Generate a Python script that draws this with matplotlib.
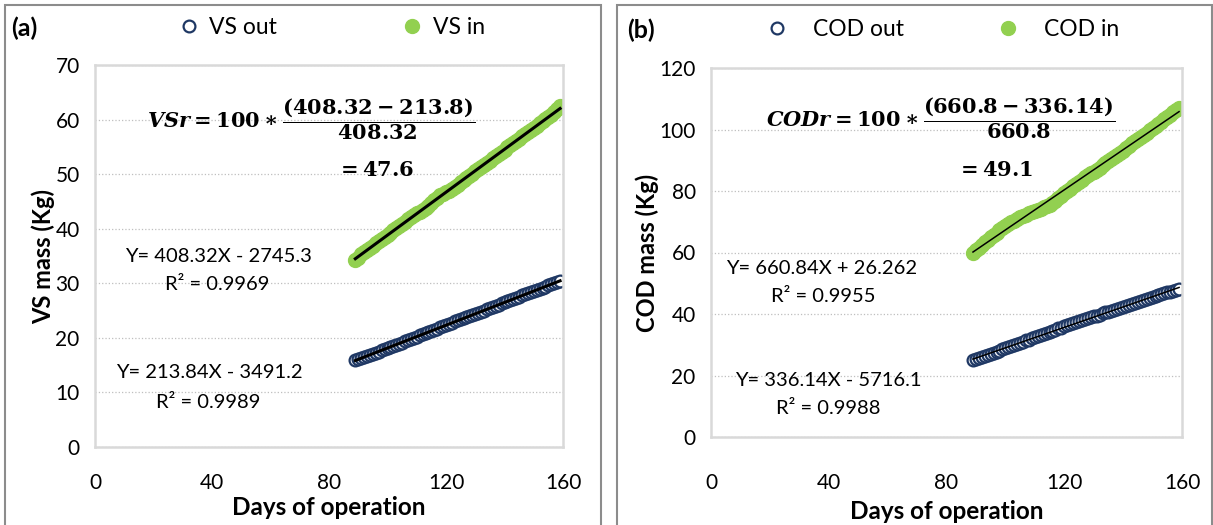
import matplotlib.pyplot as plt
import matplotlib.patches as mpatches
import numpy as np

W, H = 1213, 525

# days of operation (one point per day)
days = list(range(89, 160))

vs_in = [34.3, 34.7, 35.4, 35.8, 36.1, 36.5, 36.9, 37.3, 37.7, 38.1,
         38.5, 38.9, 39.3, 39.7, 40.1, 40.5, 40.9, 41.3, 41.7, 42.1,
         42.5, 42.8, 43.1, 43.4, 43.8, 44.2, 44.7, 45.2, 45.7, 46.1,
         46.4, 46.7, 47.0, 47.3, 47.7, 48.1, 48.5, 48.9, 49.3, 49.7,
         50.1, 50.5, 50.9, 51.3, 51.7, 52.1, 52.5, 52.9, 53.3, 53.7,
         54.1, 54.5, 54.9, 55.3, 55.7, 56.1, 56.5, 56.9, 57.3, 57.7,
         58.1, 58.5, 58.9, 59.3, 59.7, 60.1, 60.5, 60.9, 61.4, 61.9,
         62.5]
vs_out = [15.9, 16.1, 16.3, 16.5, 16.7, 16.9, 17.1, 17.3, 17.5, 17.7,
          17.9, 18.1, 18.3, 18.5, 18.7, 18.9, 19.1, 19.4, 19.6, 19.8,
          20.0, 20.2, 20.5, 20.7, 20.9, 21.1, 21.3, 21.5, 21.7, 21.9,
          22.1, 22.3, 22.5, 22.7, 23.0, 23.2, 23.4, 23.6, 23.8, 24.0,
          24.2, 24.4, 24.6, 24.8, 25.0, 25.2, 25.4, 25.6, 25.9, 26.1,
          26.3, 26.5, 26.7, 26.9, 27.1, 27.3, 27.5, 27.8, 28.0, 28.2,
          28.4, 28.6, 28.8, 29.0, 29.2, 29.4, 29.6, 29.8, 30.0, 30.2,
          30.4]
cod_in = [60.0, 60.7, 61.6, 62.5, 63.3, 64.1, 64.9, 65.7, 66.5, 67.2,
          67.9, 68.6, 69.3, 69.9, 70.4, 70.9, 71.4, 71.9, 72.3, 72.7,
          73.1, 73.5, 73.9, 74.3, 74.7, 75.1, 75.5, 76.0, 76.8, 77.6,
          78.4, 79.2, 80.0, 80.8, 81.6, 82.3, 83.0, 83.7, 84.4, 85.1,
          85.7, 86.3, 86.9, 87.6, 88.3, 89.0, 89.6, 90.3, 91.0, 91.7,
          92.4, 93.1, 93.9, 94.7, 95.5, 96.2, 96.9, 97.6, 98.3, 99.0,
          99.8, 100.5, 101.2, 101.9, 102.6, 103.3, 104.0, 104.8, 105.6, 106.3,
          107.0]
cod_out = [25.0, 25.3, 25.7, 26.0, 26.4, 26.7, 27.1, 27.4, 27.8, 28.1,
           28.5, 28.9, 29.2, 29.6, 29.9, 30.3, 30.6, 31.0, 31.4, 31.7,
           32.1, 32.4, 32.8, 33.1, 33.5, 33.8, 34.2, 34.6, 34.9, 35.3,
           35.6, 36.0, 36.3, 36.7, 37.0, 37.3, 37.6, 38.0, 38.3, 38.6,
           38.9, 39.2, 39.5, 39.8, 40.2, 40.5, 40.8, 41.1, 41.4, 41.7,
           42.1, 42.4, 42.7, 43.0, 43.3, 43.6, 43.9, 44.2, 44.5, 44.8,
           45.2, 45.5, 45.8, 46.1, 46.4, 46.7, 47.0, 47.3, 47.6, 47.9,
           48.2]

x_ticks = [0, 40, 80, 120, 160]

plt.rcParams['font.family'] = ['Lato', 'DejaVu Sans']
plt.rcParams['mathtext.fontset'] = 'custom'
plt.rcParams['mathtext.rm'] = 'DejaVu Serif:bold'
plt.rcParams['mathtext.it'] = 'DejaVu Serif:bold:italic'
plt.rcParams['mathtext.bf'] = 'DejaVu Serif:bold'

NAVY = '#1f3864'
GREEN = '#92d050'


def fx(x):
    return x / W


def fy(y):
    return 1 - y / H


fig = plt.figure(figsize=(W / 100, H / 100), dpi=100)

# outer panel frames
for x0, x1 in [(5, 601), (617, 1212)]:
    fig.patches.append(mpatches.Rectangle((fx(x0), fy(540)), fx(x1 - x0), (540 - 5) / H,
                                          transform=fig.transFigure, fill=False,
                                          edgecolor='#8c8c8c', lw=1.5))


def panel(rect, out, inn, ymax, ystep, trend_lw, ylabel):
    ax = fig.add_axes(rect)
    ax.plot(days, out, 'o', mfc='white', mec=NAVY, mew=1.6, ms=8.5, label='out')
    ax.plot(days, inn, 'o', color=GREEN, ms=10, label='in')
    for vals in (out, inn):
        c = np.polyfit(days, vals, 1)
        ends = [days[0], days[-1]]
        ax.plot(ends, np.polyval(c, ends), color='black', lw=trend_lw, zorder=5)
    ax.set_xlim(0, 160)
    ax.set_ylim(0, ymax)
    ax.set_xticks(x_ticks)
    ax.set_yticks(np.arange(0, ymax + 1, ystep))
    ax.tick_params(length=0, labelsize=15)
    ax.tick_params(axis='y', pad=11)
    ax.grid(axis='y', color='#bfbfbf', ls=':', lw=0.9)
    ax.set_axisbelow(True)
    for s in ax.spines.values():
        s.set_color('#d9d9d9')
        s.set_linewidth(1.8)
    ax.set_xlabel('Days of operation', fontsize=17.5, fontweight='bold', labelpad=2)
    ax.set_ylabel(ylabel, fontsize=17, fontweight='bold', labelpad=0)
    return ax


ax1 = panel([fx(95), 1 - 447 / H, (563 - 95) / W, (447 - 65) / H],
            vs_out, vs_in, 70, 10, 2.2, 'VS mass (Kg)')
ax1.tick_params(axis='x', pad=19)
ax2 = panel([fx(711), 1 - 437 / H, (1182 - 711) / W, (437 - 68) / H],
            cod_out, cod_in, 120, 20, 1.1, 'COD mass (Kg)')
ax2.tick_params(axis='x', pad=26)
ax2.xaxis.labelpad = 5

# panel tags and legends
fig.text(fx(11), fy(28), '(a)', fontsize=18, fontweight='bold', va='center')
fig.text(fx(627), fy(30), '(b)', fontsize=18, fontweight='bold', va='center')

h1 = ax1.get_lines()[:2]
fig.legend(h1, ['VS out', 'VS in'], loc='center left', bbox_to_anchor=(fx(175), fy(28)),
           ncol=2, frameon=False, fontsize=16.5, handletextpad=0.3, columnspacing=5.3,
           handlelength=1.2, borderpad=0, borderaxespad=0)
h2 = ax2.get_lines()[:2]
fig.legend(h2, ['COD out', 'COD in'], loc='center left', bbox_to_anchor=(fx(763), fy(30)),
           ncol=2, frameon=False, fontsize=16.5, handletextpad=1.0, columnspacing=3.9,
           handlelength=1.2, borderpad=0, borderaxespad=0)

# removal equations
fig.text(fx(311), fy(119), r'$\mathit{VSr} = 100 \ast \dfrac{(408.32 - 213.8)}{408.32}$',
         fontsize=15, ha='center', va='center')
fig.text(fx(375), fy(170), r'$= 47.6$', fontsize=15, ha='center', va='center')
fig.text(fx(941), fy(118), r'$\mathit{CODr} = 100 \ast \dfrac{(660.8 - 336.14)}{660.8}$',
         fontsize=15, ha='center', va='center')
fig.text(fx(995), fy(170), r'$= 49.1$', fontsize=15, ha='center', va='center')

# regression labels
reg = [(218, 256, 'Y= 408.32X - 2745.3'), (217, 285, 'R² = 0.9969'),
       (209, 373, 'Y= 213.84X - 3491.2'), (208, 402, 'R² = 0.9989'),
       (822, 268, 'Y= 660.84X + 26.262'), (823, 296, 'R² = 0.9955'),
       (828, 380, 'Y= 336.14X - 5716.1'), (828, 408, 'R² = 0.9988')]
for x, y, t in reg:
    fig.text(fx(x), fy(y), t, fontsize=14.5, ha='center', va='center')

fig.savefig('out.png', dpi=100)
